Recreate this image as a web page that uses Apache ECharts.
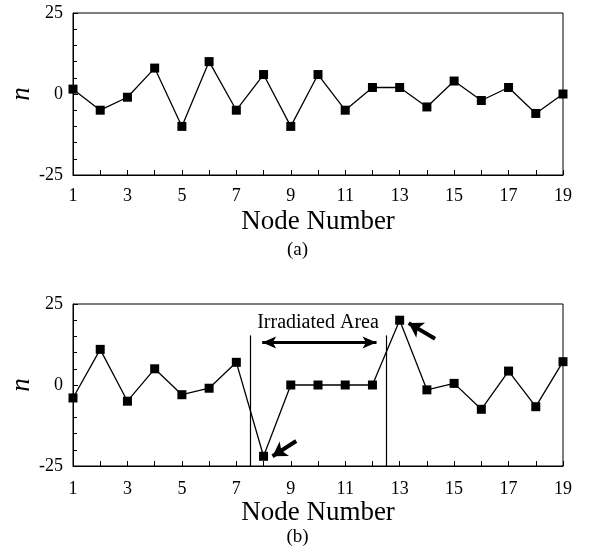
<!DOCTYPE html>
<html><head><meta charset="utf-8">
<script src="https://cdn.jsdelivr.net/npm/echarts@6/dist/echarts.min.js"></script>
<style>html,body{margin:0;padding:0;background:#fff}#c{width:595px;height:558px}</style>
</head><body><div id="c"></div>
<script>
const nodes = [1,2,3,4,5,6,7,8,9,10,11,12,13,14,15,16,17,18,19];
const valuesA = [1.5,-5,-1,8,-10,10,-5,6,-10,6,-5,2,2,-4,4,-2,2,-6,0];
const valuesB = [-4,11,-5,5,-3,-1,7,-22,0,0,0,0,20,-1.5,0.5,-7.5,4.3,-6.7,7.2];
const yTicks = [-25,0,25];
const irradiatedBounds = [7.5, 12.5];
const irradiatedLabel = 'Irradiated Area';
const yName = 'n';

const FONT = 'Liberation Serif';
const chart = echarts.init(document.getElementById('c'), null, {renderer:'canvas'});

function xAxisCfg(gi, margin){
  return {
    type:'value', gridIndex:gi, min:1, max:19, interval:1,
    name:'Node Number', nameLocation:'middle', nameGap:33,
    nameTextStyle:{fontFamily:FONT, fontSize:27, color:'#000'},
    axisLine:{onZero:false, lineStyle:{color:'#000', width:1}},
    axisTick:{inside:true, length:5, lineStyle:{color:'#000'}},
    axisLabel:{fontFamily:FONT, fontSize:18, color:'#000', margin:margin,
      formatter:v => (v % 2 === 1 ? String(v) : '')},
    splitLine:{show:false}
  };
}
function yAxisCfg(gi){
  return {
    type:'value', gridIndex:gi, min:yTicks[0], max:yTicks[2], interval:25,
    axisLine:{onZero:false, lineStyle:{color:'#000', width:1}},
    axisTick:{inside:true, length:5, lineStyle:{color:'#000'}},
    minorTick:{show:true, splitNumber:5, length:4, lineStyle:{color:'#000'}},
    axisLabel:{fontFamily:FONT, fontSize:18, color:'#000', margin:10},
    splitLine:{show:false}
  };
}
const markerStyle = {color:'#000'};
const arrowStyle = {color:'#000', width:4, type:'solid'};
const nameFont = 'italic 27px "Liberation Serif"';

chart.setOption({
  animation:false,
  backgroundColor:'#fff',
  grid:[
    {left:73, right:32, top:13, height:162, outerBoundsMode:'none', containLabel:false, show:true, borderColor:'#000', borderWidth:1, backgroundColor:'transparent'},
    {left:73, right:32, top:304, height:162, outerBoundsMode:'none', containLabel:false, show:true, borderColor:'#000', borderWidth:1, backgroundColor:'transparent'}
  ],
  xAxis:[xAxisCfg(0, 12), xAxisCfg(1, 14)],
  yAxis:[yAxisCfg(0), yAxisCfg(1)],
  graphic:[
    {type:'text', x:22, y:94, rotation:Math.PI/2, style:{text:yName, font:nameFont, fill:'#000', align:'center', verticalAlign:'middle'}},
    {type:'text', x:22, y:385, rotation:Math.PI/2, style:{text:yName, font:nameFont, fill:'#000', align:'center', verticalAlign:'middle'}},
    {type:'text', left:'center', top:241, style:{text:'(a)', font:'19px "Liberation Serif"', fill:'#000'}},
    {type:'text', left:'center', top:528, style:{text:'(b)', font:'19px "Liberation Serif"', fill:'#000'}}
  ],
  series:[
    {type:'line', xAxisIndex:0, yAxisIndex:0, data:nodes.map((n,i)=>[n,valuesA[i]]),
     symbol:'rect', symbolSize:9, itemStyle:markerStyle, lineStyle:{color:'#000', width:1.3}},
    {type:'line', xAxisIndex:1, yAxisIndex:1, data:nodes.map((n,i)=>[n,valuesB[i]]),
     symbol:'rect', symbolSize:9, itemStyle:markerStyle, lineStyle:{color:'#000', width:1.3},
     markLine:{
       silent:true, animation:false,
       label:{show:false},
       data:[
         [{coord:[irradiatedBounds[0],15.3], symbol:'none', lineStyle:{color:'#000', width:1.2, type:'solid'}},
          {coord:[irradiatedBounds[0],-25], symbol:'none'}],
         [{coord:[irradiatedBounds[1],15.3], symbol:'none', lineStyle:{color:'#000', width:1.2, type:'solid'}},
          {coord:[irradiatedBounds[1],-25], symbol:'none'}],
         [{coord:[7.95,13.1], symbol:'arrow', symbolSize:[9,14], lineStyle:{color:'#000', width:3, type:'solid'}},
          {coord:[12.15,13.1], symbol:'arrow', symbolSize:[9,14]}],
         [{coord:[9.2,-17.3], symbol:'none', lineStyle:arrowStyle},
          {coord:[8.33,-22], symbol:'arrow', symbolSize:[13,14]}],
         [{coord:[14.3,14.3], symbol:'none', lineStyle:arrowStyle},
          {coord:[13.33,19.1], symbol:'arrow', symbolSize:[13,14]}]
       ]
     }},
    {type:'scatter', xAxisIndex:1, yAxisIndex:1, data:[], silent:true,
     markPoint:{symbol:'rect', symbolSize:0, data:[{coord:[(irradiatedBounds[0]+irradiatedBounds[1])/2, 19.3],
       label:{show:true, formatter:irradiatedLabel, fontFamily:FONT, fontSize:20, color:'#000'}}]}}
  ]
});
</script></body></html>
